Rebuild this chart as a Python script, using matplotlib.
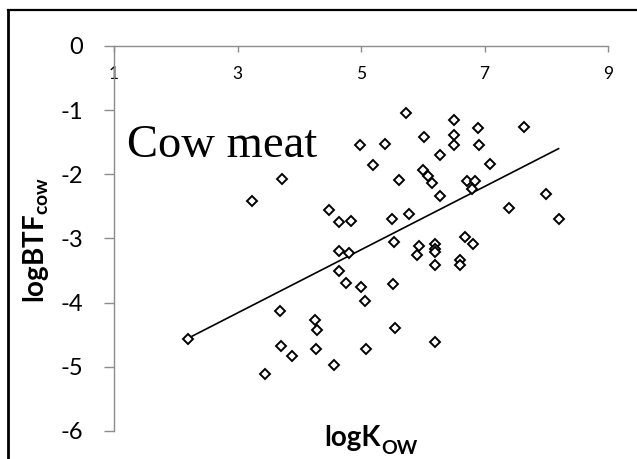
import numpy as np
import matplotlib
matplotlib.use("Agg")
from matplotlib import pyplot as plt
from matplotlib.lines import Line2D

plt.rcParams['font.family'] = ['Lato', 'DejaVu Sans']
plt.rcParams['mathtext.fontset'] = 'custom'
plt.rcParams['mathtext.rm'] = 'Lato'
plt.rcParams['mathtext.bf'] = 'Lato:bold'

# logKow vs logBTF for cow meat
log_kow = [2.20, 3.24, 3.72, 3.44, 3.69, 3.70, 3.88, 4.25, 4.29, 4.27,
           4.48, 4.56, 4.64, 4.83, 4.65, 4.81, 4.65, 4.75, 4.98, 5.00,
           5.07, 5.08, 5.20, 5.39, 5.50, 5.53, 5.52, 5.55, 5.61, 5.73,
           5.78, 5.90, 5.94, 6.02, 6.01, 6.09, 6.15, 6.20, 6.20, 6.20,
           6.20, 6.20, 6.28, 6.28, 6.50, 6.50, 6.50, 6.60, 6.60, 6.69,
           6.72, 6.81, 6.84, 6.80, 6.89, 6.91, 7.09, 7.39, 7.64, 8.00,
           8.20]
log_btf = [-4.56, -2.42, -2.07, -5.11, -4.13, -4.68, -4.83, -4.27, -4.43, -4.72,
           -2.56, -4.97, -2.74, -2.73, -3.20, -3.23, -3.51, -3.69, -1.54, -3.76,
           -3.97, -4.72, -1.86, -1.53, -2.70, -3.05, -3.71, -4.40, -2.09, -1.05,
           -2.62, -3.26, -3.11, -1.42, -1.93, -2.03, -2.14, -3.09, -3.16, -3.21,
           -3.41, -4.61, -1.70, -2.34, -1.15, -1.39, -1.54, -3.33, -3.41, -2.97,
           -2.11, -3.08, -2.10, -2.23, -1.28, -1.54, -1.84, -2.52, -1.26, -2.31,
           -2.70]

# linear trendline
trend_slope = 0.4925
trend_icpt = -5.638

xticks = [1, 3, 5, 7, 9]
yticks = [0, -1, -2, -3, -4, -5, -6]

W, H = 637, 459
fig = plt.figure(figsize=(W / 100, H / 100), dpi=100)
ax = fig.add_axes([114 / W, 1 - 431 / H, (608 - 114) / W, (431 - 46) / H])

kx = np.array([min(log_kow), max(log_kow)])
ax.plot(kx, trend_slope * kx + trend_icpt, color='black', lw=1.2, zorder=2)
ax.plot(log_kow, log_btf, linestyle='none', marker='D', markersize=5.6,
        mfc='white', mec='black', mew=1.4, zorder=3)

ax.set_xlim(1, 9)
ax.set_ylim(-6, 0)
ax.set_xticks(xticks)
ax.set_yticks(yticks)
ax.set_yticklabels([str(v) for v in yticks])

grey = '#8c8c8c'
ax.spines['bottom'].set_position(('data', 0))
ax.spines['top'].set_visible(False)
ax.spines['right'].set_visible(False)
for s in ('bottom', 'left'):
    ax.spines[s].set_color(grey)
    ax.spines[s].set_linewidth(1.0)
ax.tick_params(axis='x', direction='out', length=4.5, width=1.0, color=grey,
               labelsize=12.5, pad=10)
ax.tick_params(axis='y', direction='out', length=7, width=1.0, color=grey,
               labelsize=17, pad=15)
ax.patch.set_alpha(0)

fig.text(127 / W, 1 - 157 / H, 'Cow meat', fontfamily='Liberation Serif',
         fontsize=33.5, va='baseline', ha='left')
fig.text(36 / W, 1 - 240 / H, r'$\mathbf{logBTF_{cow}}$', rotation=90,
         fontsize=20, ha='center', va='center')

# x label with a lowered subscript
fig.text(381 / W, 1 - 446 / H, 'logK', fontsize=20, fontweight='bold',
         ha='right', va='baseline')
fig.text(381 / W, 1 - 454 / H, 'OW', fontsize=14, fontweight='bold',
         ha='left', va='baseline')

# outer frame (top and left edges)
fig.add_artist(Line2D([8 / W, 1], [1 - 10 / H, 1 - 10 / H], color='black', lw=1.6))
fig.add_artist(Line2D([8 / W, 8 / W], [0, 1 - 10 / H], color='black', lw=2.0))

fig.savefig('out.png', dpi=100)
